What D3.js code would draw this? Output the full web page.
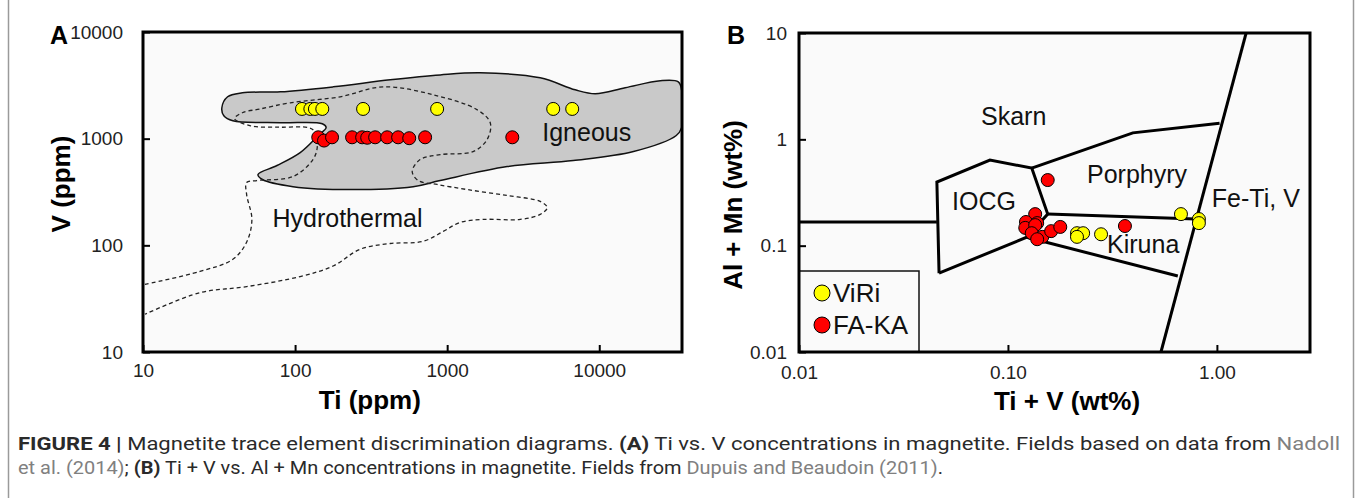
<!DOCTYPE html>
<html>
<head>
<meta charset="utf-8">
<script src="https://cdn.jsdelivr.net/npm/d3@7/dist/d3.min.js"></script>
<style>
  body { margin: 0; background: #fff; }
  text { font-family: "Liberation Sans", Arial, sans-serif; }
</style>
</head>
<body>
<script>
// ---- panel A data: Ti vs V (ppm) ----
var aViriTi = [111, 126, 135, 151, 280, 859, 4980, 6640];
var aViriV = [1900, 1900, 1900, 1900, 1900, 1900, 1900, 1900];
var aFakaTi = [142, 155, 175, 237, 276, 298, 336, 403, 476, 563, 716, 2680];
var aFakaV = [1030, 960, 1030, 1030, 1030, 1020, 1030, 1030, 1030, 1010, 1030, 1030];

// igneous field outline [Ti, V]
var igneousField = [
    [33, 1950], [36, 2470], [45, 2690], [80, 2750], [178, 3060], [422, 3560],
    [900, 3960], [1650, 4140], [4090, 3720], [6950, 2870], [9420, 2640],
    [14800, 3000], [25200, 3490], [33100, 3410], [34800, 2870], [34800, 1270],
    [32100, 1070], [16800, 757], [6750, 623], [2480, 547], [900, 405],
    [597, 355], [230, 333], [97, 355], [61, 414], [57, 461], [76, 560],
    [108, 740], [142, 1070], [160, 1270], [151, 1380], [80, 1410], [39, 1470],
    [34, 1640]
];
// hydrothermal field (dashed) [Ti, V]
var hydroField = [
    [10.3, 43], [23.7, 57], [39, 74], [48, 107], [52, 175], [48, 300], [48, 388],
    [56, 405], [97, 442], [131, 637], [140, 841], [135, 1160], [122, 1270],
    [80, 1280], [51, 1320], [40, 1540], [45, 1750], [59, 1900], [93, 2170],
    [198, 2470], [379, 3060], [809, 2580], [1570, 1870], [1920, 1410],
    [1830, 980], [1480, 757], [900, 708], [664, 637], [589, 492], [645, 405],
    [860, 372], [1360, 333], [2480, 293], [4090, 258], [4550, 226], [4090, 195],
    [3020, 175], [1730, 175], [1220, 164], [942, 135], [695, 109], [422, 104],
    [268, 92], [178, 64], [108, 51], [48, 41], [23.7, 36], [10.3, 22.6]
];
var aXTicks = [10, 100, 1000, 10000];
var aYTicks = [10, 100, 1000, 10000];

// ---- panel B data: Ti+V vs Al+Mn (wt%) ----
var bViriTiV = [0.214, 0.229, 0.214, 0.279, 0.673, 0.820, 0.820];
var bViriAlMn = [0.131, 0.131, 0.121, 0.128, 0.198, 0.178, 0.163];
var bFakaTiV = [0.155, 0.135, 0.122, 0.138, 0.121, 0.135, 0.130, 0.146, 0.138, 0.161, 0.178, 0.363];
var bFakaAlMn = [0.414, 0.198, 0.167, 0.163, 0.147, 0.156, 0.131, 0.121, 0.115, 0.137, 0.150, 0.153];

// field boundaries [Ti+V, Al+Mn]
var bLineSkarnLow = [[0.01, 0.167], [0.0457, 0.167]];
var bIocg = [[0.0468, 0.0552], [0.0457, 0.396], [0.082, 0.638], [0.130, 0.537],
             [0.155, 0.198], [0.123, 0.120], [0.0468, 0.0552]];
var bPorphyryTop = [[0.130, 0.537], [0.396, 1.15], [1.03, 1.42]];
var bKirunaTop = [[0.155, 0.198], [0.794, 0.178]];
var bKirunaLow = [[0.123, 0.120], [0.650, 0.0518]];
var bFeTiV = [[1.38, 10], [0.540, 0.01]];

var bXTicks = [0.01, 0.1, 1];
var bXLabels = ["0.01", "0.10", "1.00"];
var bYTicks = [0.01, 0.1, 1, 10];
var bYLabels = ["0.01", "0.1", "1", "10"];

var fieldLabelsA = [["Igneous", 4220, 960], ["Hydrothermal", 71, 150]];
var fieldLabelsB = [["Skarn", 0.0743, 1.36], ["Porphyry", 0.239, 0.388], ["Fe-Ti, V", 0.946, 0.231],
                    ["IOCG", 0.054, 0.216], ["Kiruna", 0.298, 0.0851]];
var legendNames = ["ViRi", "FA-KA"];
var legendColors = ["#ffff00", "#ff0000"];

var W = 1356, H = 498;
var svg = d3.select("body").append("svg").attr("width", W).attr("height", H);

// outer frame
svg.append("rect").attr("x", 8.5).attr("y", -5).attr("width", 1345).attr("height", H + 10)
    .attr("fill", "none").attr("stroke", "#9a9a9a").attr("stroke-width", 1.5);

var xA = d3.scaleLog().domain([10, 35000]).range([143, 682]);
var yA = d3.scaleLog().domain([10, 10000]).range([352, 32]);
var xB = d3.scaleLog().domain([0.01, 2.79]).range([799, 1310]);
var yB = d3.scaleLog().domain([0.01, 10]).range([352, 33]);

function frame(id, x, y) {
    var g = svg.append("g");
    var x0 = x.range()[0], x1 = x.range()[1], y0 = y.range()[1], y1 = y.range()[0];
    g.append("rect").attr("x", x0).attr("y", y0).attr("width", x1 - x0).attr("height", y1 - y0)
        .attr("fill", "#fafafa");
    svg.append("clipPath").attr("id", id).append("rect")
        .attr("x", x0).attr("y", y0).attr("width", x1 - x0).attr("height", y1 - y0);
    return g;
}

function axes(x, y, xTicks, xFmt, yTicks, yFmt, xPad, yPad) {
    var gx = svg.append("g").attr("transform", "translate(0," + y.range()[0] + ")")
        .call(d3.axisBottom(x).tickValues(xTicks).tickFormat(xFmt)
            .tickSizeInner(-7).tickSizeOuter(0).tickPadding(xPad));
    var gy = svg.append("g").attr("transform", "translate(" + x.range()[0] + ",0)")
        .call(d3.axisLeft(y).tickValues(yTicks).tickFormat(yFmt)
            .tickSizeInner(-7).tickSizeOuter(0).tickPadding(yPad));
    [gx, gy].forEach(function(g) {
        g.select(".domain").remove();
        g.attr("font-family", null).attr("font-size", null);
        g.selectAll("line").attr("stroke", "#000").attr("stroke-width", 2);
        g.selectAll("text").style("font-size", "19px").attr("fill", "#222");
    });
    // plot border
    svg.append("rect").attr("x", x.range()[0]).attr("y", y.range()[1])
        .attr("width", x.range()[1] - x.range()[0]).attr("height", y.range()[0] - y.range()[1])
        .attr("fill", "none").attr("stroke", "#000").attr("stroke-width", 3);
}

function dots(x, y, xs, ys, color, r) {
    svg.append("g").selectAll("circle").data(xs).enter().append("circle")
        .attr("cx", function(d) { return x(d); })
        .attr("cy", function(d, i) { return y(ys[i]); })
        .attr("r", r)
        .attr("fill", color).attr("stroke", "#000").attr("stroke-width", 1);
}

// ===== panel A =====
var gA = frame("clipA", xA, yA);
var lineA = d3.line().x(function(d) { return xA(d[0]); }).y(function(d) { return yA(d[1]); });

gA.append("path").datum(igneousField)
    .attr("clip-path", "url(#clipA)")
    .attr("d", lineA.curve(d3.curveCatmullRomClosed.alpha(0.5)))
    .attr("fill", "#c9c9c9").attr("stroke", "#111").attr("stroke-width", 1.5);

gA.append("path").datum(hydroField)
    .attr("clip-path", "url(#clipA)")
    .attr("d", lineA.curve(d3.curveCatmullRom.alpha(0.5)))
    .attr("fill", "none").attr("stroke", "#222").attr("stroke-width", 1.3)
    .attr("stroke-dasharray", "4,3");

gA.selectAll("text.field").data(fieldLabelsA).enter().append("text")
    .attr("x", function(d) { return xA(d[1]); })
    .attr("y", function(d) { return yA(d[2]); })
    .style("font-size", "25px").attr("fill", "#111")
    .text(function(d) { return d[0]; });

dots(xA, yA, aFakaTi, aFakaV, "#ff0000", 6.5);
dots(xA, yA, aViriTi, aViriV, "#ffff00", 6.5);

axes(xA, yA, aXTicks, d3.format("d"), aYTicks, d3.format("d"), 12, 20);

svg.append("text").attr("x", 50).attr("y", 44).style("font-size", "25px")
    .style("font-weight", "bold").text("A");
svg.append("text").attr("x", xA(310)).attr("y", 409).attr("text-anchor", "middle")
    .style("font-size", "26px").style("font-weight", "bold").text("Ti (ppm)");
svg.append("text").attr("transform", "translate(70,184) rotate(-90)").attr("text-anchor", "middle")
    .style("font-size", "26px").style("font-weight", "bold").text("V (ppm)");

// ===== panel B =====
var gB = frame("clipB", xB, yB);
var lineB = d3.line().x(function(d) { return xB(d[0]); }).y(function(d) { return yB(d[1]); });

[bLineSkarnLow, bIocg, bPorphyryTop, bKirunaTop, bKirunaLow, bFeTiV].forEach(function(seg) {
    gB.append("path").datum(seg).attr("clip-path", "url(#clipB)")
        .attr("d", lineB).attr("fill", "none").attr("stroke", "#000")
        .attr("stroke-width", 3).attr("stroke-linejoin", "miter");
});

gB.selectAll("text.field").data(fieldLabelsB).enter().append("text")
    .attr("x", function(d) { return xB(d[1]); })
    .attr("y", function(d) { return yB(d[2]); })
    .style("font-size", "25px").attr("fill", "#111")
    .text(function(d) { return d[0]; });

dots(xB, yB, bFakaTiV, bFakaAlMn, "#ff0000", 6.5);
dots(xB, yB, bViriTiV, bViriAlMn, "#ffff00", 6.5);

// legend box
var lg = svg.append("g");
lg.append("rect").attr("x", 799).attr("y", 271).attr("width", 120).attr("height", 81)
    .attr("fill", "#fafafa").attr("stroke", "#111").attr("stroke-width", 1.5);
legendNames.forEach(function(n, i) {
    lg.append("circle").attr("cx", 822).attr("cy", 293 + i * 32).attr("r", 8)
        .attr("fill", legendColors[i]).attr("stroke", "#000").attr("stroke-width", 1);
    lg.append("text").attr("x", 833).attr("y", 302 + i * 32).style("font-size", "26px")
        .attr("fill", "#111").text(n);
});

axes(xB, yB, bXTicks, function(d, i) { return bXLabels[i]; },
     bYTicks, function(d, i) { return bYLabels[i]; }, 14, 12);

svg.append("text").attr("x", 727).attr("y", 44).style("font-size", "25px")
    .style("font-weight", "bold").text("B");
svg.append("text").attr("x", 1067).attr("y", 410).attr("text-anchor", "middle")
    .style("font-size", "26px").style("font-weight", "bold").text("Ti + V (wt%)");
svg.append("text").attr("transform", "translate(742,205) rotate(-90)").attr("text-anchor", "middle")
    .style("font-size", "26px").style("font-weight", "bold").text("Al + Mn (wt%)");

// ===== caption =====
var caption = [
    [["FIGURE 4 | ", "b"], ["Magnetite trace element discrimination diagrams. ", "n"], ["(A)", "b"],
     [" Ti vs. V concentrations in magnetite. Fields based on data from ", "n"], ["Nadoll", "l"]],
    [["et al. (2014)", "l"], ["; ", "n"], ["(B)", "b"],
     [" Ti + V vs. Al + Mn concentrations in magnetite. Fields from ", "n"],
     ["Dupuis and Beaudoin (2011)", "l"], [".", "n"]]
];
var captionWidths = [1322, 925];
caption.forEach(function(line, i) {
    var t = svg.append("text").attr("x", 18).attr("y", 450 + i * 24)
        .style("font-family", "Roboto, sans-serif").style("font-size", "19px")
        .attr("textLength", captionWidths[i]).attr("lengthAdjust", "spacingAndGlyphs");
    line.forEach(function(p) {
        t.append("tspan").text(p[0])
            .attr("fill", p[1] === "l" ? "#808080" : "#2a2a2a")
            .style("font-weight", p[1] === "b" ? "bold" : "normal");
    });
});
</script>
</body>
</html>
